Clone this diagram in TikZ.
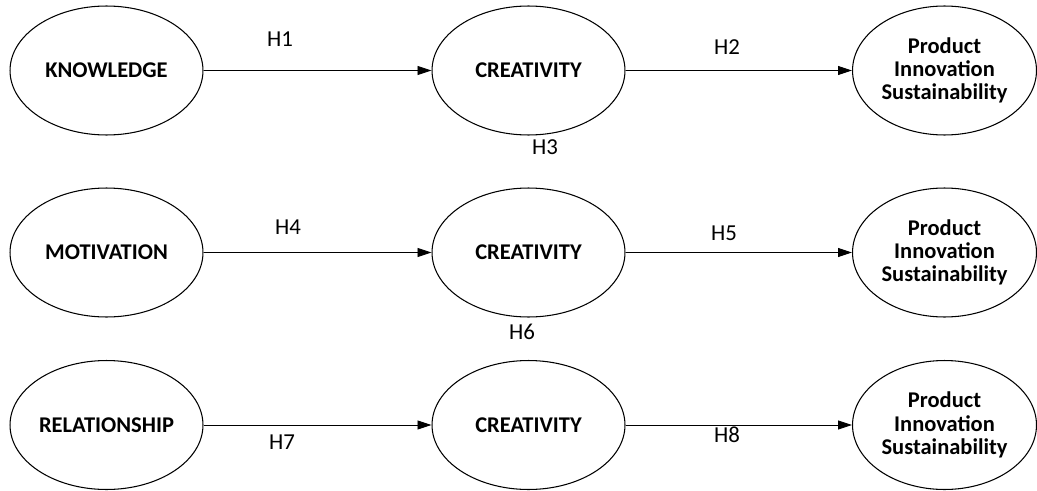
\documentclass[tikz,border=0pt]{standalone}
\usepackage{fontspec}
\setmainfont{Carlito}
\usetikzlibrary{shapes.geometric,arrows.meta,positioning}

\tikzset{
    construct/.style={draw, ellipse, line width=0.6pt, minimum width=3.86cm, minimum height=2.58cm,
        inner sep=0pt, align=center, font=\fontsize{12.8}{13.2}\selectfont\bfseries},
    outcome/.style={construct, minimum width=3.68cm},
    hyp/.style={font=\fontsize{13}{15}\selectfont, inner sep=0pt},
    link/.style={line width=0.5pt, -{Triangle[length=0.28cm, width=0.18cm]}}
}

\begin{document}
\begin{tikzpicture}[x=0.02cm, y=-0.02cm]
    \useasboundingbox (0,0) rectangle (1037,490);

    % Row 1
    \node[construct] (know) at (106.5,70.5) {KNOWLEDGE};
    \node[construct] (crea1) at (528.5,70.5) {CREATIVITY};
    \node[outcome] (prod1) at (944.5,70.5) {Product\\Innovation\\Sustainability};
    \draw[link] (know) -- (crea1);
    \draw[link] (crea1) -- (prod1);
    \node[hyp] (h1) at (280,39) {H1};
    \node[hyp] (h2) at (727,47) {H2};
    \node[hyp] (h3) at (545,147) {H3};

    % Row 2
    \node[construct] (moti) at (106.5,252.5) {MOTIVATION};
    \node[construct] (crea2) at (528.5,252.5) {CREATIVITY};
    \node[outcome] (prod2) at (944.5,252.5) {Product\\Innovation\\Sustainability};
    \draw[link] (moti) -- (crea2);
    \draw[link] (crea2) -- (prod2);
    \node[hyp] (h4) at (288,227) {H4};
    \node[hyp] (h5) at (724,233) {H5};
    \node[hyp] (h6) at (522,332) {H6};

    % Row 3
    \node[construct] (rela) at (106.5,425) {RELATIONSHIP};
    \node[construct] (crea3) at (528.5,425) {CREATIVITY};
    \node[outcome] (prod3) at (944.5,425) {Product\\Innovation\\Sustainability};
    \draw[link] (rela) -- (crea3);
    \draw[link] (crea3) -- (prod3);
    \node[hyp] (h7) at (282,442) {H7};
    \node[hyp] (h8) at (727,435) {H8};
\end{tikzpicture}
\end{document}
